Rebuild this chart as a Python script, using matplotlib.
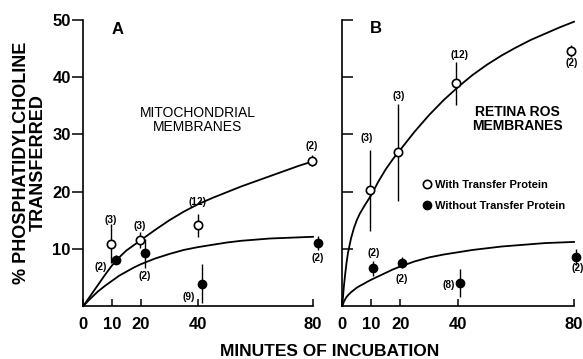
import matplotlib
matplotlib.use('Agg')
import matplotlib.pyplot as plt
from matplotlib.lines import Line2D

plt.rcParams['font.family'] = ['Liberation Sans', 'DejaVu Sans']

# panel A - mitochondrial membranes
a_with_x = [9.7, 19.9, 39.9, 79.6]
a_with_y = [10.9, 11.6, 14.1, 25.4]
a_with_err = [3.4, 1.4, 2.0, 1.0]
a_with_n = ['(3)', '(3)', '(12)', '(2)']
a_wo_x = [11.3, 21.5, 41.4, 81.6]
a_wo_y = [8.1, 9.2, 3.9, 11.05]
a_wo_err = [0.8, 2.6, 3.4, 1.2]
a_wo_n = ['(2)', '(2)', '(9)', '(2)']
# fitted curves
a_curve_t = [0, 2.5, 5, 7.5, 10, 12.5, 15, 17.5, 20, 25, 30, 35, 40, 45, 50, 55, 60, 65, 70, 75, 80]
a_curve_with = [0, 1.8, 3.6, 5.4, 7.1, 8.5, 9.7, 10.6, 11.5, 13.3, 15.0, 16.5, 17.8, 18.9, 19.9,
                20.9, 21.8, 22.7, 23.6, 24.5, 25.3]
a_curve_wo = [0, 1.3, 2.5, 3.5, 4.4, 5.3, 6.0, 6.7, 7.3, 8.3, 9.1, 9.8, 10.3, 10.7, 11.1,
              11.4, 11.6, 11.8, 11.9, 12.0, 12.1]

# panel B - retina ROS membranes
b_with_x = [9.6, 19.3, 39.4, 79.1]
b_with_y = [20.2, 26.9, 38.9, 44.6]
b_with_err = [7.1, 8.5, 3.7, 1.0]
b_with_n = ['(3)', '(3)', '(12)', '(2)']
b_wo_x = [10.7, 20.5, 40.8, 80.8]
b_wo_y = [6.6, 7.6, 4.0, 8.5]
b_wo_err = [1.3, 1.0, 2.4, 1.4]
b_wo_n = ['(2)', '(2)', '(8)', '(2)']
b_curve_t = [0, 0.5, 1, 1.5, 2, 3, 4, 5, 6, 7.5, 8.5, 10, 12.5, 15, 17.5, 20, 25, 30, 35, 40,
             45, 50, 55, 60, 65, 70, 75, 80]
b_curve_with = [0, 3.2, 5.6, 7.7, 9.4, 11.8, 13.6, 15.0, 16.1, 17.4, 18.2, 19.4, 21.8, 23.9,
                25.7, 27.3, 30.5, 33.4, 36.0, 38.3, 40.4, 42.2, 43.8, 45.2, 46.5, 47.6, 48.7, 49.7]
b_curve_wo = [0, 0.7, 1.2, 1.6, 1.9, 2.4, 2.8, 3.2, 3.5, 3.9, 4.2, 4.6, 5.2, 5.8, 6.4, 6.9,
              7.8, 8.5, 9.0, 9.4, 9.8, 10.1, 10.4, 10.6, 10.8, 11.0, 11.1, 11.2]

xticks = [0, 10, 20, 40, 80]
yticks = [10, 20, 30, 40, 50]

# label offsets (pixels) from each marker
a_with_off = [(0, 24), (-1, 14), (0, 23), (0, 15)]
a_wo_off = [(-15, -7), (0, -23), (-13, -13), (0, -15)]
b_with_off = [(-3, 52), (0, 56), (3, 28), (0, -12)]
b_wo_off = [(0, 15), (0, -16), (-12, -2), (1, -11)]

fig = plt.figure(figsize=(5.83, 3.59), dpi=100)
W, H = 583.0, 359.0
axA = fig.add_axes([83.3/W, 1-306/H, 229.7/W, 286/H])
axB = fig.add_axes([342.3/W, 1-306/H, 231.7/W, 286/H])


def panel(ax, ct, cw, cwo, wx, wy, we, wn, woff, ox, oy, oe, on, ooff, ydir):
    ax.plot(ct, cw, color='black', lw=1.3, clip_on=False)
    ax.plot(ct, cwo, color='black', lw=1.3, clip_on=False)
    ax.errorbar(wx, wy, yerr=we, fmt='o', ms=6, mfc='white', mec='black', mew=1.2,
                ecolor='black', elinewidth=1.0, capsize=0, clip_on=False, zorder=3)
    ax.errorbar(ox, oy, yerr=oe, fmt='o', ms=6, mfc='black', mec='black',
                ecolor='black', elinewidth=1.0, capsize=0, clip_on=False, zorder=3)
    for x, y, s, off in zip(wx, wy, wn, woff):
        ax.annotate(s, (x, y), xytext=off, textcoords='offset pixels',
                    ha='center', va='center', fontsize=7.3, fontweight='bold')
    for x, y, s, off in zip(ox, oy, on, ooff):
        ax.annotate(s, (x, y), xytext=off, textcoords='offset pixels',
                    ha='center', va='center', fontsize=7.3, fontweight='bold',
                    annotation_clip=False)
    ax.set_xlim(0, 80)
    ax.set_ylim(0, 50)
    ax.set_xticks(xticks)
    ax.set_xticklabels([str(v) for v in xticks], fontsize=12, fontweight='bold')
    ax.set_yticks(yticks)
    ax.tick_params(axis='x', direction='in', length=5, width=1.1, pad=8)
    ax.tick_params(axis='y', direction=ydir, length=8, width=1.1, pad=1)
    for s in ['top', 'right']:
        ax.spines[s].set_visible(False)
    for s in ['left', 'bottom']:
        ax.spines[s].set_linewidth(1.2)


panel(axA, a_curve_t, a_curve_with, a_curve_wo, a_with_x, a_with_y, a_with_err, a_with_n,
      a_with_off, a_wo_x, a_wo_y, a_wo_err, a_wo_n, a_wo_off, 'out')
axA.set_yticklabels([str(v) for v in yticks], fontsize=12, fontweight='bold')

panel(axB, b_curve_t, b_curve_with, b_curve_wo, b_with_x, b_with_y, b_with_err, b_with_n,
      b_with_off, b_wo_x, b_wo_y, b_wo_err, b_wo_n, b_wo_off, 'in')
axB.set_yticklabels([])

axA.text(0.148, 0.968, 'A', transform=axA.transAxes, fontsize=12, fontweight='bold',
         ha='center', va='center')
axB.text(0.144, 0.972, 'B', transform=axB.transAxes, fontsize=12, fontweight='bold',
         ha='center', va='center')
fig.text(198/W, 1-120/H, 'MITOCHONDRIAL\nMEMBRANES', fontsize=10, ha='center',
         va='center', linespacing=1.05)
fig.text(517.5/W, 1-119/H, 'RETINA ROS\nMEMBRANES', fontsize=10, fontweight='bold',
         ha='center', va='center', linespacing=1.05)

handles = [Line2D([], [], ls='none', marker='o', ms=6, mfc='white', mec='black', mew=1.2),
           Line2D([], [], ls='none', marker='o', ms=6, mfc='black', mec='black')]
axB.legend(handles, ['With Transfer Protein', 'Without Transfer Protein'],
           loc='upper left', bbox_to_anchor=(0.345, 0.44), frameon=False,
           prop={'size': 8, 'weight': 'bold'}, handlelength=0.8, handletextpad=0.35,
           labelspacing=0.95, borderpad=0, borderaxespad=0)

fig.text(330/W, 1-351/H, 'MINUTES OF INCUBATION', fontsize=12.5, fontweight='bold',
         ha='center', va='center')
fig.text(30/W, 1-163/H, '% PHOSPHATIDYLCHOLINE\nTRANSFERRED', fontsize=13,
         fontweight='bold', rotation=90, ha='center', va='center', linespacing=0.95)

fig.savefig('out.png', dpi=100)
